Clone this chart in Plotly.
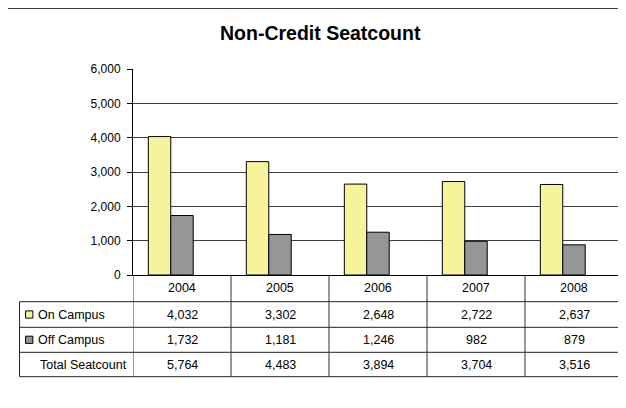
import plotly.graph_objects as go

years = ["2004", "2005", "2006", "2007", "2008"]
on_campus = [4032, 3302, 2648, 2722, 2637]
off_campus = [1732, 1181, 1246, 982, 879]
total_seatcount = [5764, 4483, 3894, 3704, 3516]
series_names = ["On Campus", "Off Campus", "Total Seatcount"]
y_ticks = [0, 1000, 2000, 3000, 4000, 5000, 6000]

W, H = 626, 408
OFF = 8.0  # page body margin: screen coords = figure coords + 8
L, R, T, B = 133.3 - OFF, 622.7 - OFF, 69.0 - OFF, 275.0 - OFF
FONT = "Arial, Liberation Sans, sans-serif"
YELLOW = "#F7F39B"
GREY = "#969696"


def px(x):
    """screen x (as measured in the reference) -> paper fraction"""
    return (x - OFF - L) / (R - L)


def py(y):
    """screen y (as measured in the reference) -> paper fraction"""
    return (B - (y - OFF)) / (B - T)


fig = go.Figure()
fig.add_trace(go.Bar(x=years, y=on_campus, name=series_names[0],
                     marker=dict(color=YELLOW, line=dict(color="black", width=1)),
                     showlegend=False))
fig.add_trace(go.Bar(x=years, y=off_campus, name=series_names[1],
                     marker=dict(color=GREY, line=dict(color="black", width=1)),
                     showlegend=False))
fig.add_trace(go.Bar(x=years, y=total_seatcount, name=series_names[2],
                     marker=dict(color="rgba(0,0,0,0)", line=dict(width=0)),
                     hoverinfo="skip", showlegend=False))

shapes = []
annotations = []

# outer frame
shapes.append(dict(type="rect", xref="paper", yref="paper",
                   x0=px(7), x1=px(660), y0=py(8), y1=py(440),
                   line=dict(color="black", width=1.5), layer="below"))
# plot area right border
shapes.append(dict(type="line", xref="paper", yref="paper",
                   x0=1, x1=1, y0=0, y1=1, line=dict(color="#808080", width=1)))

# table geometry (screen coords)
row_y = [275.0, 301.7, 327.3, 352.3, 376.7]
tbl_left = 20.0
for yy in row_y[1:]:
    shapes.append(dict(type="line", xref="paper", yref="paper",
                       x0=px(tbl_left), x1=1, y0=py(yy), y1=py(yy),
                       line=dict(color="#202020", width=1)))
shapes.append(dict(type="line", xref="paper", yref="paper",
                   x0=px(tbl_left), x1=px(tbl_left), y0=py(row_y[1]), y1=py(row_y[-1]),
                   line=dict(color="#202020", width=1)))
for k in range(len(years) + 1):
    shapes.append(dict(type="line", xref="x", yref="paper",
                       x0=k - 0.5, x1=k - 0.5, y0=0, y1=py(row_y[-1]),
                       line=dict(color="#303030", width=1)))

TS = 12.5
for k, yr in enumerate(years):
    annotations.append(dict(x=k, y=py((row_y[0] + row_y[1]) / 2), xref="x", yref="paper",
                            text=yr, showarrow=False, xanchor="center", yanchor="middle",
                            font=dict(family=FONT, size=TS, color="black")))

rows = [on_campus, off_campus, total_seatcount]
key_colors = [YELLOW, GREY, None]
for r, vals in enumerate(rows):
    yc = (row_y[r + 1] + row_y[r + 2]) / 2
    for k, v in enumerate(vals):
        annotations.append(dict(x=k, y=py(yc), xref="x", yref="paper",
                                text=f"{v:,}", showarrow=False, xanchor="center", yanchor="middle",
                                font=dict(family=FONT, size=TS, color="black")))
    if key_colors[r] is not None:
        shapes.append(dict(type="rect", xref="paper", yref="paper",
                           x0=px(26), x1=px(33.3), y0=py(yc - 3.6), y1=py(yc + 3.6),
                           fillcolor=key_colors[r], line=dict(color="black", width=1)))
        annotations.append(dict(x=px(36.5), y=py(yc), xref="paper", yref="paper",
                                text=series_names[r], showarrow=False, xanchor="left", yanchor="middle",
                                font=dict(family=FONT, size=TS, color="black")))
    else:
        annotations.append(dict(x=px(129.5), y=py(yc), xref="paper", yref="paper",
                                text=series_names[r], showarrow=False, xanchor="right", yanchor="middle",
                                font=dict(family=FONT, size=TS, color="black")))

annotations.append(dict(x=px(321), y=py(33), xref="paper", yref="paper",
                        text="<b>Non-Credit Seatcount</b>", showarrow=False,
                        xanchor="center", yanchor="middle",
                        font=dict(family=FONT, size=19.5, color="black")))

fig.update_layout(
    width=W, height=H,
    margin=dict(l=L, r=W - R, t=T, b=H - B, pad=0),
    paper_bgcolor="white", plot_bgcolor="white",
    barmode="group", bargap=0.313, bargroupgap=0,
    font=dict(family=FONT, size=12, color="black"),
    shapes=shapes, annotations=annotations,
    showlegend=False,
)
fig.update_xaxes(type="category", range=[-0.5, len(years) - 0.5], showticklabels=False,
                 showline=True, linecolor="black", linewidth=1, ticks="", showgrid=False,
                 zeroline=False)
fig.update_yaxes(range=[0, 6000], tickvals=y_ticks, tickformat=",",
                 ticks="outside", ticklen=5, tickcolor="black", ticklabelstandoff=4,
                 showline=True, linecolor="black", linewidth=1,
                 showgrid=True, gridcolor="#404040", gridwidth=1, zeroline=False,
                 tickfont=dict(family=FONT, size=12, color="black"))

fig.write_html("out.html")
